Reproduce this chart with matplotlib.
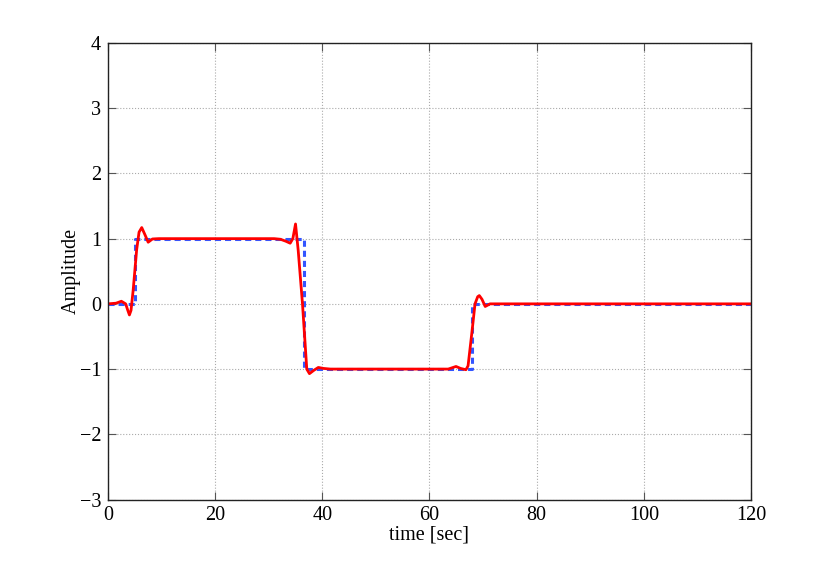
import matplotlib
matplotlib.use('Agg')
import matplotlib.pyplot as plt

plt.rcParams['font.family'] = ['Liberation Serif', 'DejaVu Serif']
plt.rcParams['axes.unicode_minus'] = True

# input square wave (blue dashed)
t_in = [0, 5, 5, 36.5, 36.5, 68, 68, 120]
y_in = [0, 0, 1, 1, -1, -1, 0, 0]

# filtered output (red)
t_out = [0, 1.5, 2.5, 3.3, 3.7, 4.0, 4.3, 4.7, 5.35, 5.8, 6.3, 6.9, 7.5, 8.3, 9.5, 12,
         31, 32.2, 33.2, 34.0, 34.5, 35.0, 35.5, 36.3, 37.1, 37.6, 38.4, 39.25,
         40.2, 41.5, 45, 63.5, 64.95, 65.8, 66.8, 67.2, 67.9, 68.5, 69.0, 69.3, 69.8,
         70.4, 71.3, 72.5, 120]
y_out = [0, 0.01, 0.04, 0.0, -0.1, -0.17, -0.1, 0.21, 0.83, 1.1, 1.17, 1.06, 0.945, 0.995,
         1.0, 1.0, 1.0, 0.99, 0.96, 0.93, 1.0, 1.225, 0.82, 0.0, -1.0, -1.07, -1.02,
         -0.975, -0.99, -1.0, -1.0, -1.0, -0.96, -0.99, -1.01, -0.95, -0.45, 0.0, 0.11,
         0.127, 0.07, -0.04, 0.0, 0.0, 0.0]

fig = plt.figure(figsize=(8.3, 5.62), dpi=100)
ax = fig.add_axes([0.1301, 0.1112, 0.7747, 0.8123])

ax.plot(t_in, y_in, color='#3355ff', lw=2.2, linestyle=(0, (2, 1.3)))
ax.plot(t_out, y_out, color='#ff0000', lw=2)

ax.set_xlim(0, 120)
ax.set_ylim(-3, 4)
ax.set_xticks(range(0, 121, 20))
ax.set_yticks(range(-3, 5))
ax.grid(True, linestyle=':', color='#aaaaaa', lw=0.8)
ax.tick_params(direction='in', top=True, right=True, length=6, labelsize=14.5,
               pad=5, color='#555555')
for s in ax.spines.values():
    s.set_color('#222222')
    s.set_linewidth(1)

ax.set_xlabel('time [sec]', fontsize=14.5, labelpad=0)
ax.set_ylabel('Amplitude', fontsize=14.5, labelpad=-1)

fig.savefig('out.png', dpi=100)
